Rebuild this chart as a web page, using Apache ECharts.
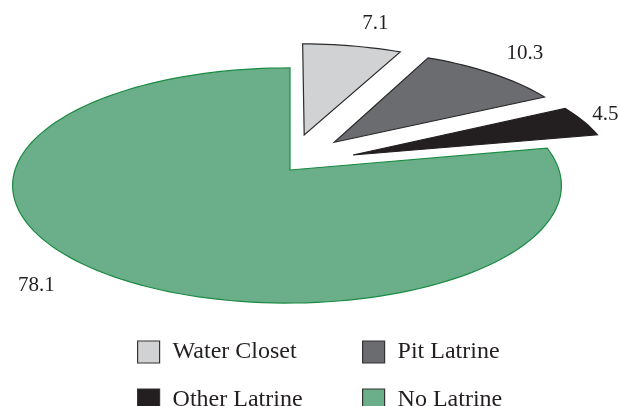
<!DOCTYPE html>
<html>
<head>
<meta charset="utf-8">
<script src="https://cdn.jsdelivr.net/npm/echarts@6/dist/echarts.min.js"></script>
<style>
  html, body { margin: 0; padding: 0; background: #fff; }
  #chart { width: 619px; height: 406px; }
</style>
</head>
<body>
<div id="chart"></div>
<script>
// data
const categories = ["Water Closet", "Pit Latrine", "Other Latrine", "No Latrine"];
const shares = [7.1, 10.3, 4.5, 78.1];
const labels = ["7.1", "10.3", "4.5", "78.1"];

// look of each slice
const fills = ["#d1d2d4", "#6b6c70", "#231f20", "#6aaf89"];
const strokes = ["#2b2b2b", "#2b2b2b", "#231f20", "#1b8a43"];
const explodeDist = [0.32, 0.30, 0.27, 0];
const explodeTurn = [3, 10, 10, 0];
const nudgeX = [3, 3, 3, 3];
const sliceScale = [0.96, 0.96, 0.96, 1];
const labelDist = [1.27, 1.25, 1.08, 1.2];
const labelTurn = [-2, 2.5, 2.3, -4];

// tilted-disc projection (perspective), units of pie radius
const cx = 287, cy = 170, kx = 272, ky = 115.5, persp = 0.132;
function project(X, Z) {
  const d = 1 + persp * Z;
  return [cx + kx * X / d, cy - ky * Z / d];
}
const rad = a => a * Math.PI / 180;

const total = shares.reduce((a, b) => a + b, 0);

function sliceRenderer(i) {
  return function (params, api) {
    const v = api.value(0);
    let before = 0;
    for (let j = 0; j < i; j++) before += shares[j];
    const a0 = 90 - 360 * before / total;
    const a1 = a0 - 360 * v / total;
    const mid = (a0 + a1) / 2;
    const ea = rad(mid + explodeTurn[i]);
    const ox = explodeDist[i] * Math.cos(ea);
    const oz = explodeDist[i] * Math.sin(ea);
    const r = sliceScale[i];
    const pts = [];
    const corner = project(ox, oz);
    pts.push([corner[0] + nudgeX[i], corner[1]]);
    const steps = Math.max(8, Math.ceil(Math.abs(a0 - a1) / 2));
    for (let s = 0; s <= steps; s++) {
      const a = rad(a0 + (a1 - a0) * s / steps);
      const p = project(ox + r * Math.cos(a), oz + r * Math.sin(a));
      // the green body keeps its outline, only its notch moves
      pts.push([p[0] + (i === 3 ? 0 : nudgeX[i]), p[1]]);
    }
    if (i === 3) {
      pts[pts.length - 1][0] += nudgeX[i];
    }
    const la = rad(mid + labelTurn[i]);
    const lp = project(ox + labelDist[i] * Math.cos(la), oz + labelDist[i] * Math.sin(la));
    return {
      type: "group",
      children: [
        {
          type: "polygon",
          shape: { points: pts },
          style: { fill: fills[i], stroke: strokes[i], lineWidth: 1.2, lineJoin: "miter" }
        },
        {
          type: "text",
          x: lp[0] + nudgeX[i],
          y: lp[1] + 1.5,
          style: {
            text: labels[i],
            fill: "#231f20",
            font: "21px 'Liberation Serif'",
            align: "center",
            verticalAlign: "middle"
          }
        }
      ]
    };
  };
}

// green slice drawn first so the exploded ones sit on top
const order = [3, 0, 1, 2];
const series = order.map(i => ({
  name: categories[i],
  type: "custom",
  coordinateSystem: "none",
  renderItem: sliceRenderer(i),
  itemStyle: { color: fills[i], borderColor: "#333", borderWidth: 1.2 },
  data: [[shares[i]]]
}));

const legendBase = {
  orient: "vertical",
  icon: "rect",
  padding: 0,
  itemWidth: 22,
  itemHeight: 22,
  itemGap: 24,
  top: 340,
  height: 120,
  itemStyle: { borderColor: "#333", borderWidth: 1.2 },
  textStyle: {
    fontFamily: "Liberation Serif",
    fontSize: 24,
    color: "#231f20",
    padding: [0, 0, 0, 8]
  }
};

const chart = echarts.init(document.getElementById("chart"));
chart.setOption({
  animation: false,
  legend: [
    Object.assign({}, legendBase, { left: 137, data: ["Water Closet", "Other Latrine"] }),
    Object.assign({}, legendBase, { left: 362, data: ["Pit Latrine", "No Latrine"] })
  ],
  series: series
});
</script>
</body>
</html>
